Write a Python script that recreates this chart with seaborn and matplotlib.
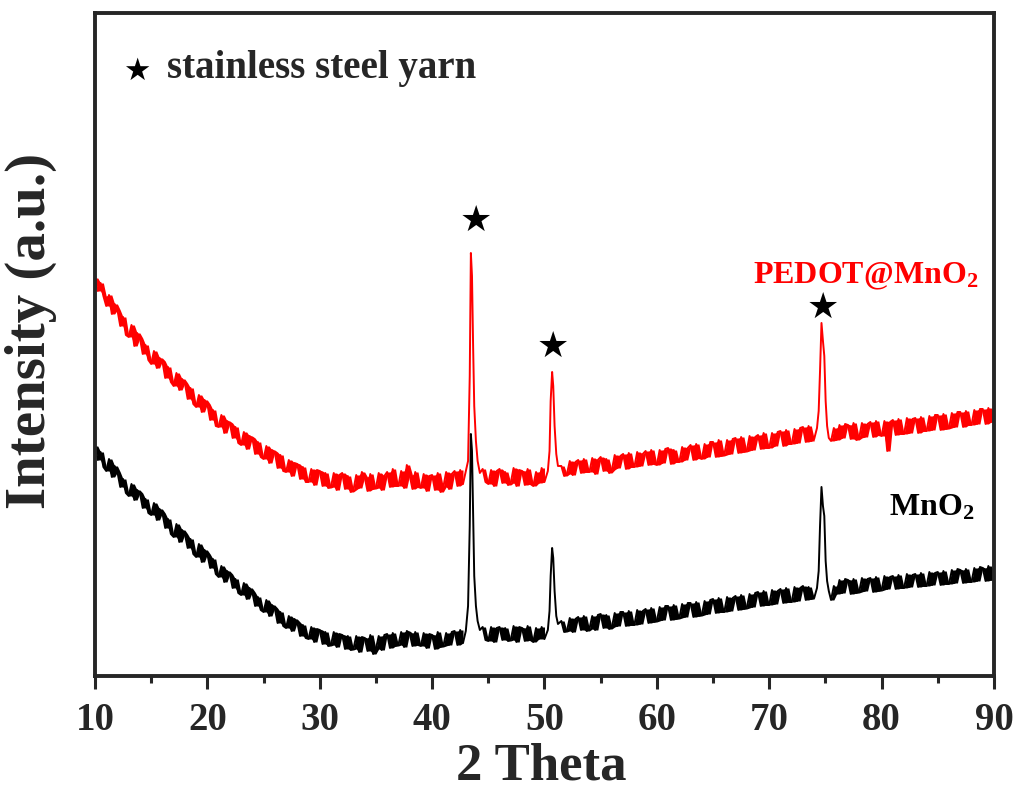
import numpy as np
import pandas as pd
import seaborn as sns
import matplotlib.pyplot as plt
from matplotlib.ticker import MultipleLocator

sns.set_style("ticks")
plt.rcParams['font.family'] = ['Liberation Serif', 'DejaVu Sans']
plt.rcParams['font.weight'] = 'bold'
plt.rcParams['mathtext.fontset'] = 'custom'
plt.rcParams['mathtext.rm'] = 'Liberation Serif:bold'
plt.rcParams['mathtext.it'] = 'Liberation Serif:bold'
plt.rcParams['mathtext.bf'] = 'Liberation Serif:bold'

# scan grid, 2theta from 10 to 90 in 0.25 deg steps
two_theta = np.arange(10, 90.001, 0.25)

# PEDOT@MnO2, intensity (a.u.), one row per degree
pedot_mno2 = [
    398, 385, 393, 380,  370, 381, 362, 372,  366, 350, 359, 341,  339, 351, 330, 343,
    338, 322, 331, 316,  312, 325, 308, 318,  315, 298, 309, 294,  290, 303, 286, 297,
    293, 277, 288, 272,  269, 281, 264, 276,  272, 256, 266, 250,  249, 261, 243, 255,
    253, 238, 249, 233,  231, 244, 227, 240,  238, 222, 234, 219,  217, 230, 213, 226,
    224, 208, 221, 205,  204, 216, 200, 213,  212, 197, 209, 194,  194, 207, 191, 206,
    205, 190, 203, 188,  189, 203, 186, 201,  203, 187, 200, 184,  186, 201, 188, 204,
    199, 185, 202, 187,  188, 203, 186, 200,  204, 189, 207, 190,  190, 205, 188, 211,
    201, 187, 204, 189,  188, 202, 185, 200,  201, 186, 203, 184,  189, 204, 187, 202,
    205, 190, 206, 192,  192, 205, 195, 204,  206, 193, 207, 194,  192, 206, 190, 205,
    207, 193, 204, 191,  193, 208, 190, 206,  205, 191, 207, 192,  190, 204, 193, 208,
    194, 207, 197, 210,  212, 198, 210, 200,  202, 215, 201, 214,  216, 203, 217, 204,
    204, 218, 202, 216,  219, 205, 217, 203,  206, 221, 208, 220,  222, 207, 223, 209,
    209, 224, 210, 222,  225, 211, 226, 212,  211, 226, 213, 227,  228, 212, 226, 214,
    214, 229, 216, 228,  231, 216, 232, 218,  217, 232, 219, 234,  234, 219, 236, 220,
    221, 236, 222, 237,  238, 223, 239, 224,  225, 240, 226, 239,  241, 227, 243, 228,
    228, 243, 230, 244,  245, 230, 246, 232,  232, 247, 233, 248,  249, 234, 250, 235,
    237, 251, 240, 248,  236, 242, 235, 248,  236, 251, 238, 252,  251, 237, 253, 236,
    238, 253, 239, 252,  254, 239, 255, 241,  240, 255, 225, 254,  256, 241, 257, 242,
    242, 258, 243, 257,  258, 243, 259, 245,  245, 260, 246, 261,  261, 246, 262, 247,
    248, 263, 249, 264,  264, 249, 265, 251,  251, 266, 252, 267,  267, 252, 268, 254,
    264,
]

# MnO2
mno2 = [
    230, 216, 224, 209,  205, 217, 199, 210,  204, 189, 197, 183,  180, 192, 176, 186,
    183, 168, 177, 163,  161, 173, 156, 167,  163, 148, 157, 142,  139, 152, 134, 146,
    142, 128, 137, 122,  119, 132, 114, 126,  122, 108, 117, 102,  99, 110, 94, 105,
    102, 88, 97, 83,  81, 93, 77, 88,  84, 70, 79, 66,  64, 76, 60, 71,
    68, 53, 64, 50,  48, 60, 45, 57,  54, 40, 51, 38,  37, 49, 34, 47,
    46, 32, 44, 30,  31, 44, 29, 42,  41, 27, 40, 26,  27, 40, 24, 39,
    38, 25, 41, 22,  27, 40, 26, 41,  42, 28, 43, 30,  31, 44, 29, 45,
    43, 30, 44, 31,  30, 43, 28, 42,  41, 27, 44, 29,  30, 43, 31, 44,
    45, 31, 46, 33,  32, 46, 34, 45,  48, 35, 49, 36,  35, 49, 34, 48,
    49, 36, 48, 35,  36, 50, 34, 49,  48, 35, 50, 36,  34, 48, 37, 49,
    37, 50, 40, 53,  54, 42, 55, 44,  45, 58, 44, 57,  59, 46, 60, 45,
    47, 60, 46, 61,  62, 48, 61, 47,  49, 63, 50, 64,  64, 50, 65, 51,
    51, 66, 52, 65,  67, 53, 68, 54,  55, 69, 56, 70,  70, 56, 71, 57,
    58, 72, 59, 73,  73, 59, 74, 60,  61, 75, 62, 76,  77, 63, 78, 64,
    64, 79, 65, 78,  80, 66, 81, 67,  68, 82, 69, 83,  84, 70, 85, 71,
    71, 86, 72, 85,  87, 73, 88, 74,  74, 89, 75, 88,  90, 76, 89, 77,
    78, 91, 80, 92,  78, 86, 76, 90,  82, 96, 83, 97,  96, 82, 97, 83,
    84, 98, 85, 97,  98, 84, 99, 85,  86, 100, 87, 99,  100, 87, 101, 88,
    88, 102, 89, 101,  102, 89, 103, 90,  90, 104, 91, 103,  104, 91, 105, 92,
    92, 106, 93, 107,  106, 93, 107, 94,  94, 108, 95, 109,  108, 95, 110, 96,
    106,
]

# stainless steel reflections (finer sampling across each peak)
peak_2theta = [43.0, 43.2, 43.35, 43.45, 43.55, 43.65, 43.75, 43.9, 44.05, 44.25,
               50.3, 50.45, 50.55, 50.68, 50.78, 50.9, 51.05, 51.2,
               74.25, 74.4, 74.52, 74.65, 74.78, 74.9, 75.02, 75.15, 75.3]
pedot_peak = [205, 215, 300, 423, 400, 330, 270, 235, 215, 203,
              205, 225, 275, 304, 290, 250, 222, 210,
              248, 265, 305, 353, 335, 320, 275, 250, 238]
mno2_peak = [45, 70, 150, 242, 225, 160, 100, 70, 55, 46,
             46, 65, 100, 128, 118, 85, 60, 52,
             88, 105, 150, 189, 170, 160, 115, 95, 85]
peak_groups = [0] * 10 + [1] * 8 + [2] * 9

x_ticks = [10, 20, 30, 40, 50, 60, 70, 80, 90]
colors = {"PEDOT@MnO2": "#ff0000", "MnO2": "#000000"}


def build(name, grid_vals, peak_vals):
    base = pd.DataFrame({"2theta": two_theta, "intensity": grid_vals})
    px = np.array(peak_2theta)
    near = np.abs(base["2theta"].values[:, None] - px[None, :]).min(axis=1) < 0.12
    base = base[~near]
    pk = pd.DataFrame({"2theta": peak_2theta, "intensity": peak_vals})
    out = pd.concat([base, pk]).sort_values("2theta")
    out["sample"] = name
    return base, out


fig = plt.figure(figsize=(10.2, 7.91), dpi=100)
ax = fig.add_axes([0.0931, 0.1454, 0.8814, 0.8382])

frames = []
for name, vals, pk in (("PEDOT@MnO2", pedot_mno2, pedot_peak), ("MnO2", mno2, mno2_peak)):
    base, full = build(name, vals, pk)
    frames.append(full)
    # noise band between neighbouring scan points, broken where the peaks sit
    seg = (base["2theta"].diff() > 0.3).cumsum()
    for _, part in base.groupby(seg):
        lo = part["intensity"].rolling(2, min_periods=1).min()
        hi = part["intensity"].rolling(2, min_periods=1).max()
        ax.fill_between(part["2theta"], lo, hi, color=colors[name], lw=0)

df = pd.concat(frames, ignore_index=True)
sns.lineplot(data=df, x="2theta", y="intensity", hue="sample", palette=colors,
             estimator=None, sort=False, linewidth=1.4, legend=False, ax=ax)

ax.set_xlim(10, 90)
ax.set_ylim(0, 663)
ax.set_yticks([])
ax.set_xticks(x_ticks)
ax.xaxis.set_minor_locator(MultipleLocator(5))
ax.tick_params(axis="x", which="major", direction="out", length=9, width=2.2,
               labelsize=28, pad=10, top=False)
ax.tick_params(axis="x", which="minor", direction="out", length=5, width=2.2, top=False)
for s in ax.spines.values():
    s.set_linewidth(2.8)
    s.set_visible(True)

ax.set_xlabel("2 Theta", fontsize=38, fontweight="bold")
ax.set_ylabel("Intensity (a.u.)", fontsize=41, fontweight="bold")
ax.xaxis.set_label_coords(0.496, -0.1)
ax.yaxis.set_label_coords(-0.042, 0.52)

# stars above the steel peaks
star_dx = [0.45, 0.1, 0.1]
star_pad = [31, 24, 14]
top = pd.DataFrame({"x": peak_2theta, "y": pedot_peak, "g": peak_groups})
for g, grp in top.groupby("g"):
    i = grp["y"].idxmax()
    ax.text(grp.loc[i, "x"] + star_dx[g], grp.loc[i, "y"] + star_pad[g], "\u2605",
            fontsize=26, ha="center", va="center", color="black")

ax.text(13.7, 604, "\u2605", fontsize=22, ha="center", va="center", color="black")
ax.text(16.4, 607, "stainless steel yarn", fontsize=28, ha="left", va="center")

ax.text(78.6, 400, r"PEDOT@MnO$_2$", fontsize=23, color="#ff0000",
        ha="center", va="center")
ax.text(84.5, 168, r"MnO$_2$", fontsize=23, color="black", ha="center", va="center")

fig.savefig("out.png", dpi=100)
